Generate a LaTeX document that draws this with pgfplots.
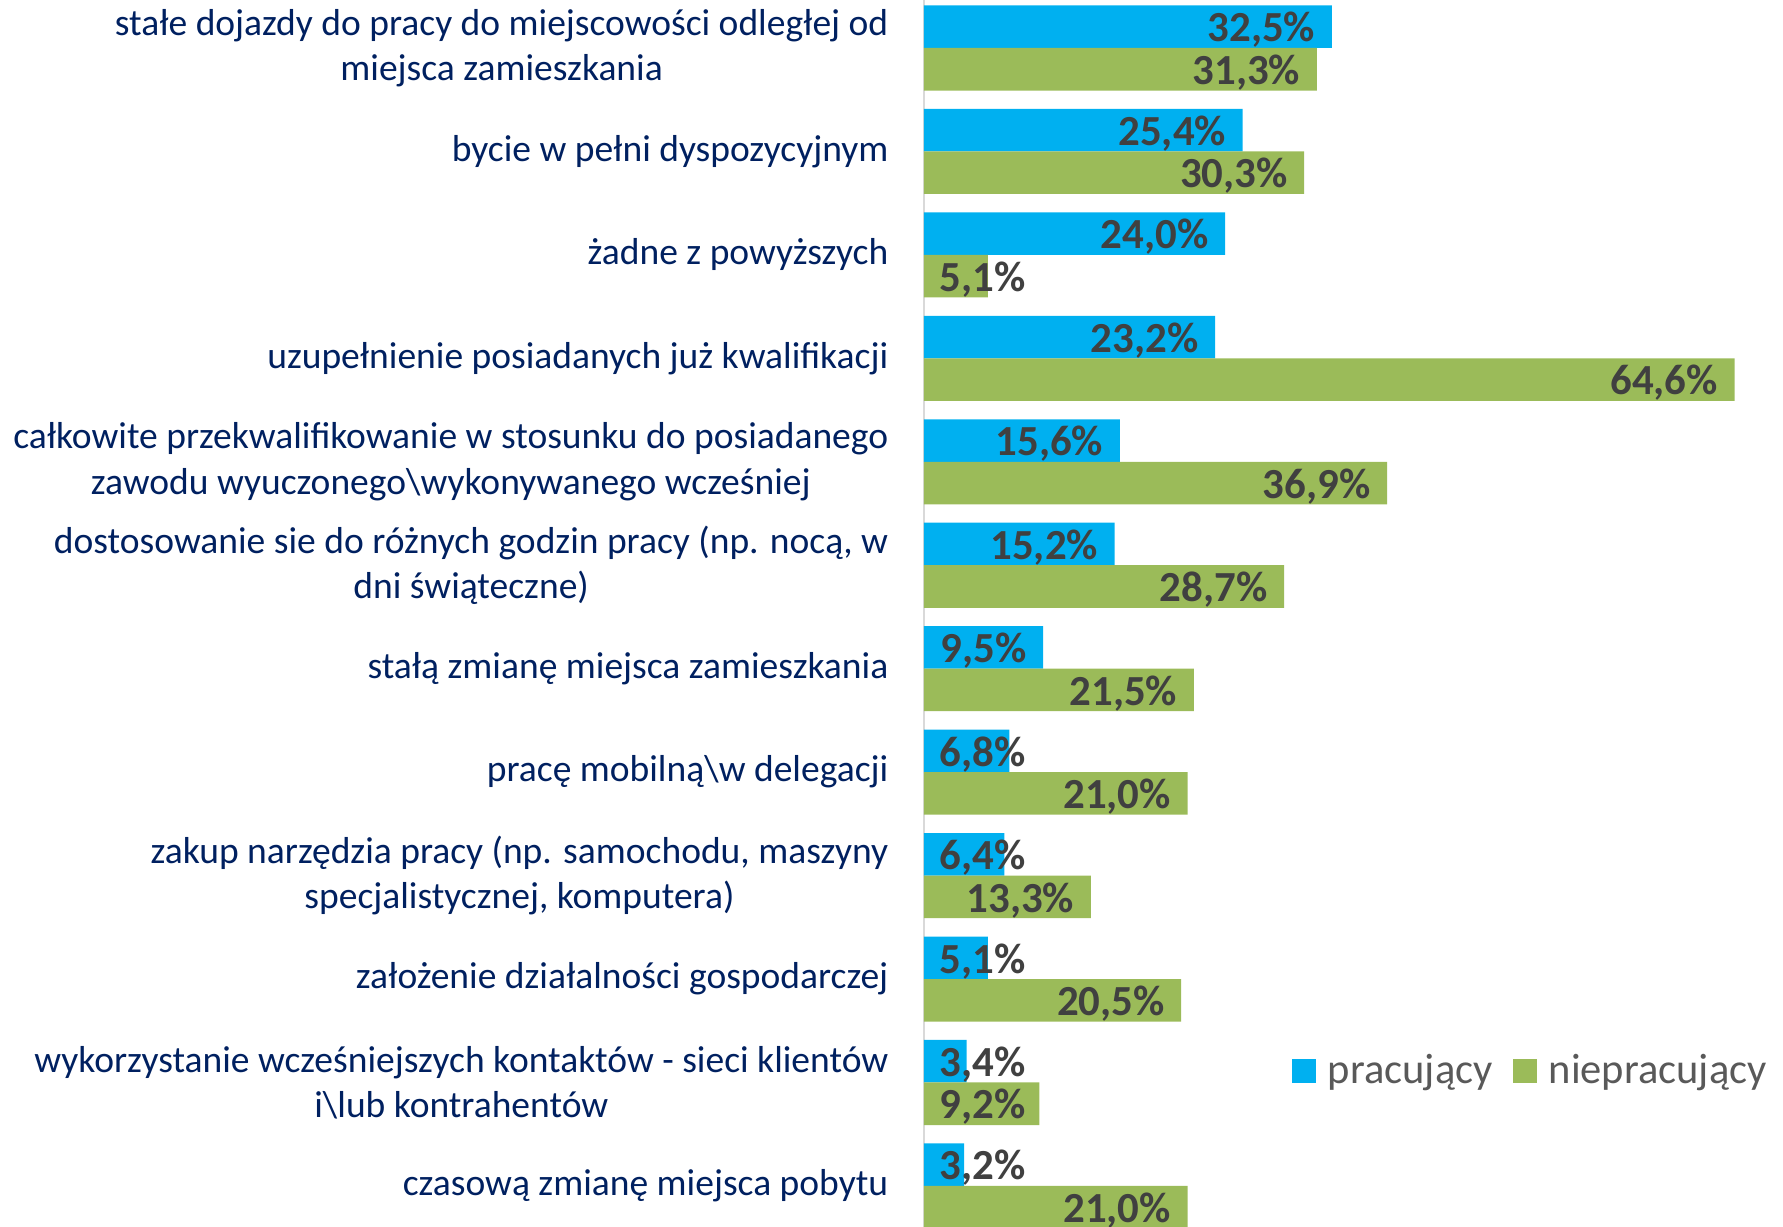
\documentclass[border=0pt]{standalone}
\usepackage{fontspec}
\setmainfont{Carlito}
\usepackage{pgfplots}
\usepackage{pgfplotstable}
\pgfplotsset{compat=1.18}
\definecolor{cblue}{HTML}{00B0F0}
\definecolor{cgreen}{HTML}{9BBB59}
\definecolor{navy}{HTML}{002060}
\definecolor{labgray}{HTML}{404040}
\definecolor{leggray}{HTML}{595959}
\definecolor{axgray}{HTML}{D9D9D9}
\pgfplotstableread{
idx prac nieprac
0 32.5 31.3
1 25.4 30.3
2 24.0 5.1
3 23.2 64.6
4 15.6 36.9
5 15.2 28.7
6 9.5 21.5
7 6.8 21.0
8 6.4 13.3
9 5.1 20.5
10 3.4 9.2
11 3.2 21.0
}\data
\begin{document}
\begin{tikzpicture}
\begin{axis}[
  at={(0,0)}, anchor=south west,
  scale only axis, width=8.59cm, height=12.27cm,
  xmin=0, xmax=68.45, ymin=-0.464, ymax=11.397, y dir=reverse,
  axis x line=none, axis y line*=left,
  y axis line style={draw=axgray, line width=0.02cm, -},
  xtick=\empty,
  ytick={0,...,11},
  major tick length=0pt,
  ytick style={draw=none},
  yticklabels={
    {stałe dojazdy do pracy do miejscowości odległej od\\miejsca zamieszkania},
    {bycie w pełni dyspozycyjnym},
    {żadne z powyższych},
    {uzupełnienie posiadanych już kwalifikacji},
    {całkowite przekwalifikowanie w stosunku do posiadanego\\zawodu wyuczonego\textbackslash wykonywanego wcześniej},
    {dostosowanie sie do różnych godzin pracy (np. nocą, w\\dni świąteczne)},
    {stałą zmianę miejsca zamieszkania},
    {pracę mobilną\textbackslash w delegacji},
    {zakup narzędzia pracy (np. samochodu, maszyny\\specjalistycznej, komputera)},
    {założenie działalności gospodarczej},
    {wykorzystanie wcześniejszych kontaktów - sieci klientów\\i\textbackslash lub kontrahentów},
    {czasową zmianę miejsca pobytu}},
  yticklabel style={anchor=east, align=center, inner sep=0pt, xshift=-0.35cm,
    text=navy, font=\fontsize{10.68}{12.9}\selectfont},
  legend columns=2,
  legend style={at={(0.4284,0.1271)}, anchor=west, draw=none, fill=none,
    inner sep=0pt, outer sep=0pt,
    font=\fontsize{12.1}{14}\selectfont, text=leggray,
    nodes={inner sep=0pt},
    /tikz/every odd column/.append style={column sep=0.12cm},
    /tikz/every even column/.append style={column sep=0.2cm}},
  legend image code/.code={\fill[#1] (0cm,-0.12cm) rectangle (0.24cm,0.12cm);},
  nodes near coords={\pgfmathprintnumber[fixed,fixed zerofill,precision=1,use comma,assume math mode=true]{\pgfplotspointmeta}\%},
  point meta=x,
  visualization depends on={rawx \as \v},
  every node near coord/.append style={anchor=east, inner sep=0pt, text=labgray,
    font=\fontsize{12.2}{14}\selectfont\bfseries, text height=0.64em, text depth=0pt,
    yshift=-0.04cm,
    xshift={max(1.02-0.1255*\v,-0.16)*1cm}},
]
\addplot[xbar, bar width=0.411, bar shift=0pt, fill=cblue, draw=none]
  table[x=prac, y expr=\thisrow{idx}-0.2055] {\data};
\addplot[xbar, bar width=0.411, bar shift=0pt, fill=cgreen, draw=none]
  table[x=nieprac, y expr=\thisrow{idx}+0.2055] {\data};
\legend{pracujący, niepracujący}
\end{axis}
\pgfresetboundingbox
\useasboundingbox (-9.24cm,0) rectangle (8.59cm,12.27cm);
\end{tikzpicture}
\end{document}
